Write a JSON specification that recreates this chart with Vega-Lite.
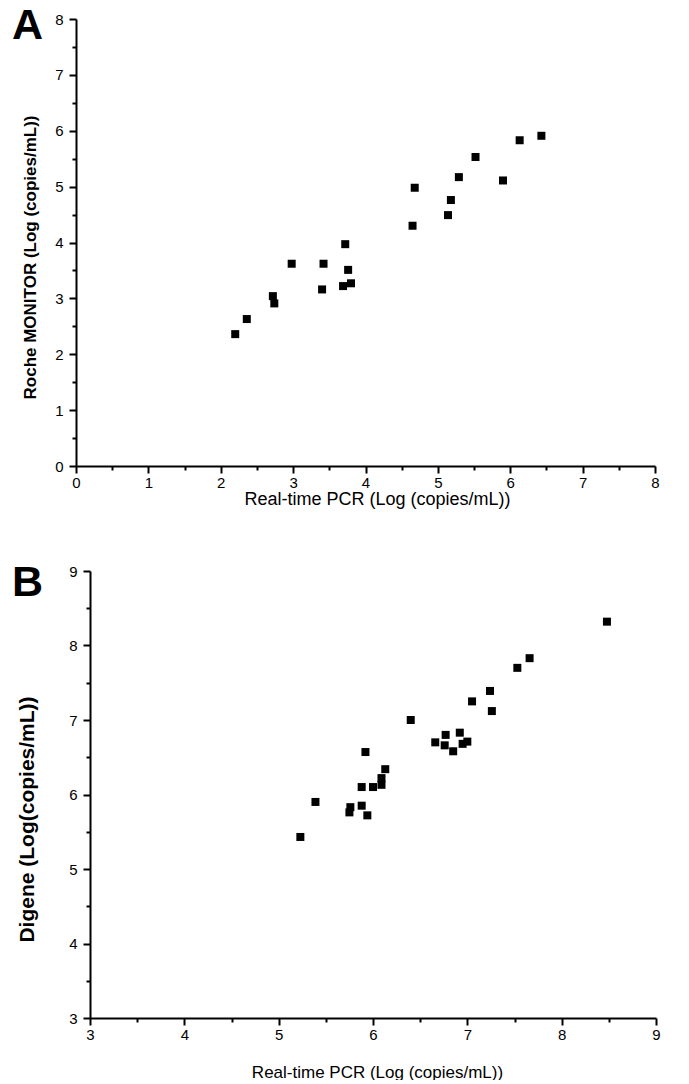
{
  "$schema": "https://vega.github.io/schema/vega-lite/v6.json",
  "background": "white",
  "padding": {"left": 12, "top": 5, "right": 0, "bottom": 0},
  "bounds": "flush",
  "spacing": 105,
  "config": {
    "view": {"stroke": null},
    "axis": {
      "grid": false,
      "domainColor": "black",
      "domainWidth": 2,
      "tickColor": "black",
      "tickWidth": 2,
      "labelColor": "black",
      "titleColor": "black",
      "labelFont": "Liberation Sans Narrow, Liberation Sans, Arial",
      "labelFontSize": 15,
      "labelFlush": false,
      "labelOverlap": false,
      "titleFont": "Liberation Sans, Arial",
      "labelExpr": "datum.value % 1 === 0 ? '' + datum.value : ''",
      "tickSize": {"condition": {"test": "datum.value % 1 === 0", "value": 7}, "value": 4}
    },
    "title": {"font": "Liberation Sans, Arial", "fontSize": 43, "fontWeight": "bold", "color": "black", "anchor": "start", "frame": "group", "baseline": "alphabetic", "offset": 0}
  },
  "datasets": {
    "A": [
      {"pcr": 2.2, "roche": 2.36}, {"pcr": 2.36, "roche": 2.63}, {"pcr": 2.72, "roche": 3.04},
      {"pcr": 2.74, "roche": 2.91}, {"pcr": 2.98, "roche": 3.62}, {"pcr": 3.4, "roche": 3.16},
      {"pcr": 3.42, "roche": 3.62}, {"pcr": 3.72, "roche": 3.97}, {"pcr": 3.76, "roche": 3.51},
      {"pcr": 3.69, "roche": 3.22}, {"pcr": 3.8, "roche": 3.27}, {"pcr": 4.65, "roche": 4.3},
      {"pcr": 4.68, "roche": 4.98}, {"pcr": 5.14, "roche": 4.49}, {"pcr": 5.18, "roche": 4.76},
      {"pcr": 5.29, "roche": 5.17}, {"pcr": 5.52, "roche": 5.53}, {"pcr": 5.9, "roche": 5.11},
      {"pcr": 6.13, "roche": 5.83}, {"pcr": 6.43, "roche": 5.91}
    ],
    "B": [
      {"pcr": 8.48, "digene": 8.32}, {"pcr": 7.66, "digene": 7.83}, {"pcr": 7.53, "digene": 7.7},
      {"pcr": 7.24, "digene": 7.39}, {"pcr": 7.05, "digene": 7.25}, {"pcr": 7.26, "digene": 7.12},
      {"pcr": 6.4, "digene": 7.0}, {"pcr": 6.92, "digene": 6.83}, {"pcr": 6.77, "digene": 6.8},
      {"pcr": 6.66, "digene": 6.7}, {"pcr": 6.76, "digene": 6.66}, {"pcr": 6.85, "digene": 6.58},
      {"pcr": 6.95, "digene": 6.68}, {"pcr": 7.0, "digene": 6.71}, {"pcr": 5.92, "digene": 6.57},
      {"pcr": 6.13, "digene": 6.34}, {"pcr": 6.09, "digene": 6.22}, {"pcr": 6.09, "digene": 6.13},
      {"pcr": 6.0, "digene": 6.1}, {"pcr": 5.88, "digene": 6.1}, {"pcr": 5.39, "digene": 5.9},
      {"pcr": 5.76, "digene": 5.83}, {"pcr": 5.75, "digene": 5.76}, {"pcr": 5.88, "digene": 5.85},
      {"pcr": 5.94, "digene": 5.72}, {"pcr": 5.23, "digene": 5.43}
    ]
  },
  "vconcat": [
    {
      "title": {"text": "A", "dx": -64, "dy": 40},
      "width": 579,
      "height": 447,
      "data": {"name": "A"},
      "mark": {"type": "point", "shape": "square", "filled": true, "size": 64, "color": "black", "opacity": 1},
      "encoding": {
        "x": {
          "field": "pcr", "type": "quantitative",
          "scale": {"domain": [0, 8], "nice": false, "zero": false},
          "axis": {
            "title": "Real-time PCR (Log (copies/mL))",
            "values": [0, 0.5, 1, 1.5, 2, 2.5, 3, 3.5, 4, 4.5, 5, 5.5, 6, 6.5, 7, 7.5, 8],
            "labelPadding": 2,
            "titleFontSize": 18,
            "titleFontWeight": "normal",
            "titleX": 301,
            "titleY": 33,
            "titleBaseline": "middle"
          }
        },
        "y": {
          "field": "roche", "type": "quantitative",
          "scale": {"domain": [0, 8], "nice": false, "zero": false},
          "axis": {
            "title": "Roche MONITOR (Log (copies/mL))",
            "values": [0, 0.5, 1, 1.5, 2, 2.5, 3, 3.5, 4, 4.5, 5, 5.5, 6, 6.5, 7, 7.5, 8],
            "labelPadding": 6,
            "titleFontSize": 17,
            "titleFontWeight": "bold",
            "titleX": -46,
            "titleY": 238,
            "titleBaseline": "middle"
          }
        }
      }
    },
    {
      "title": {"text": "B", "dx": -64, "dy": 45},
      "width": 580,
      "height": 447,
      "data": {"name": "B"},
      "mark": {"type": "point", "shape": "square", "filled": true, "size": 64, "color": "black", "opacity": 1},
      "encoding": {
        "x": {
          "field": "pcr", "type": "quantitative",
          "scale": {"domain": [3, 9], "nice": false, "zero": false, "range": [14, 580]},
          "axis": {
            "title": "Real-time PCR (Log (copies/mL))",
            "values": [3, 3.5, 4, 4.5, 5, 5.5, 6, 6.5, 7, 7.5, 8, 8.5, 9],
            "labelPadding": 2,
            "titleFontSize": 17,
            "titleFontWeight": "normal",
            "titleX": 301,
            "titleY": 54,
            "titleBaseline": "middle"
          }
        },
        "y": {
          "field": "digene", "type": "quantitative",
          "scale": {"domain": [3, 9], "nice": false, "zero": false},
          "axis": {
            "title": "Digene (Log(copies/mL))",
            "values": [3, 3.5, 4, 4.5, 5, 5.5, 6, 6.5, 7, 7.5, 8, 8.5, 9],
            "offset": -14,
            "labelPadding": 6,
            "titleFontSize": 21,
            "titleFontWeight": "bold",
            "titleX": -63,
            "titleY": 248,
            "titleBaseline": "middle"
          }
        }
      }
    }
  ]
}
